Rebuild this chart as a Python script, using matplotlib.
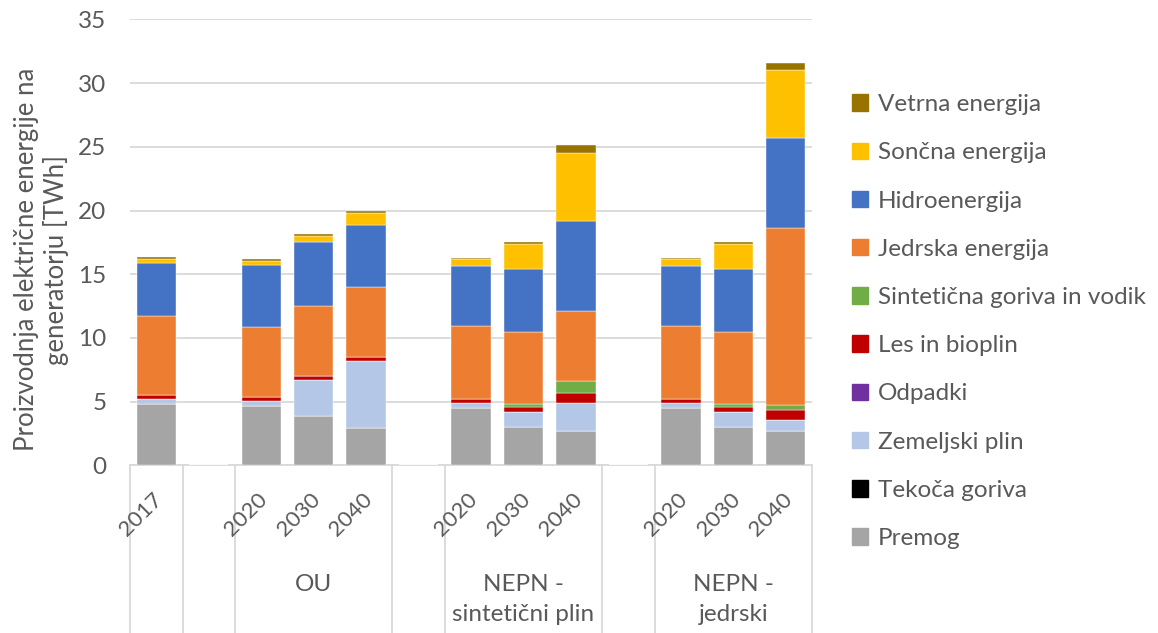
import matplotlib
matplotlib.use("Agg")
import matplotlib.pyplot as plt
import matplotlib.transforms as mtransforms
from matplotlib.patches import Patch
import numpy as np

plt.rcParams['font.family'] = ['Lato', 'DejaVu Sans']

# categories (empty slots are gaps between scenario groups)
years = ["2017", "", "2020", "2030", "2040", "", "2020", "2030", "2040", "", "2020", "2030", "2040"]
groups = ["OU", "NEPN -\nsintetični plin", "NEPN -\njedrski"]
group_slots = [3, 7, 11]
separators = [-0.5, 0.5, 1.5, 4.5, 5.5, 8.5, 9.5, 12.5]

# series values [TWh], bottom to top (nan = empty slot)
n = np.nan
premog =     [4.8,  n, 4.65, 3.9,  2.96, n, 4.5,  3.0,  2.7,  n, 4.5,  3.0,  2.7]
tekoca =     [0.0,  n, 0.0,  0.0,  0.0,  n, 0.0,  0.0,  0.0,  n, 0.0,  0.0,  0.0]
zemeljski =  [0.4,  n, 0.4,  2.83, 5.23, n, 0.42, 1.2,  2.2,  n, 0.42, 1.2,  0.87]
odpadki =    [0.0,  n, 0.0,  0.0,  0.0,  n, 0.0,  0.0,  0.0,  n, 0.0,  0.0,  0.0]
les =        [0.3,  n, 0.32, 0.3,  0.29, n, 0.3,  0.4,  0.77, n, 0.3,  0.4,  0.76]
sinteticna = [0.0,  n, 0.0,  0.0,  0.0,  n, 0.0,  0.18, 0.92, n, 0.0,  0.18, 0.42]
jedrska =    [6.25, n, 5.5,  5.47, 5.5,  n, 5.7,  5.7,  5.56, n, 5.7,  5.7,  13.87]
hidro =      [4.15, n, 4.87, 5.05, 4.89, n, 4.75, 4.95, 7.0,  n, 4.75, 4.95, 7.05]
soncna =     [0.3,  n, 0.33, 0.46, 0.92, n, 0.5,  1.95, 5.4,  n, 0.5,  1.95, 5.37]
vetrna =     [0.17, n, 0.15, 0.14, 0.18, n, 0.13, 0.13, 0.58, n, 0.13, 0.13, 0.58]

series = [
    ("Premog", premog, "#A5A5A5"),
    ("Tekoča goriva", tekoca, "#000000"),
    ("Zemeljski plin", zemeljski, "#B4C7E7"),
    ("Odpadki", odpadki, "#7030A0"),
    ("Les in bioplin", les, "#C00000"),
    ("Sintetična goriva in vodik", sinteticna, "#70AD47"),
    ("Jedrska energija", jedrska, "#ED7D31"),
    ("Hidroenergija", hidro, "#4472C4"),
    ("Sončna energija", soncna, "#FFC000"),
    ("Vetrna energija", vetrna, "#997300"),
]

txt = "#595959"
grid = "#D9D9D9"
fs = 17.5

fig = plt.figure(figsize=(11.58, 6.33), dpi=100)
ax = fig.add_axes([0.1123, 0.2648, 0.5889, 0.7044])

x = np.arange(len(years))
bottom = np.zeros(len(years))
for name, vals, col in series:
    v = np.array(vals, dtype=float)
    ax.bar(x, np.nan_to_num(v), 0.75, bottom=bottom, color=col, label=name,
           edgecolor="white", linewidth=0.3, zorder=3)
    bottom += np.nan_to_num(v)

ax.set_xlim(-0.5, 12.5)
ax.set_ylim(0, 35)
ax.set_yticks(range(0, 36, 5))
ax.yaxis.grid(True, color=grid, linewidth=1.3, zorder=0)
for s in ["top", "right", "left"]:
    ax.spines[s].set_visible(False)
ax.spines["bottom"].set_color(grid)
ax.spines["bottom"].set_linewidth(1.3)
ax.tick_params(axis="y", length=0, pad=17, labelsize=fs, labelcolor=txt)
ax.set_xticks([])

trans = mtransforms.blended_transform_factory(ax.transData, ax.transAxes)
for xi, lab in zip(x, years):
    if lab:
        ax.text(xi + 0.2, -0.054, lab, transform=trans, rotation=45,
                ha="right", va="top", fontsize=16, color=txt)
for xi, lab in zip(group_slots, groups):
    ax.text(xi, -0.243, lab, transform=trans, ha="center", va="top",
            fontsize=fs, color=txt, linespacing=1.55)
for xs in separators:
    ax.plot([xs, xs], [0, -0.38], transform=trans, color=grid, linewidth=1.3,
            clip_on=False)

fig.text(0.0355, 0.59, "Proizvodnja električne energije na\ngeneratorju [TWh]",
         rotation=90, ha="center", va="center", fontsize=18.5, color=txt,
         linespacing=1.2)

handles = [Patch(color=col, label=name) for name, vals, col in series][::-1]
leg = fig.legend(handles=handles, loc="center left", bbox_to_anchor=(0.736, 0.492),
                 frameon=False, fontsize=fs, labelcolor=txt, handlelength=0.66,
                 handleheight=0.66, handletextpad=0.4, labelspacing=1.12,
                 borderaxespad=0, borderpad=0)

fig.savefig("out.png", dpi=100)
